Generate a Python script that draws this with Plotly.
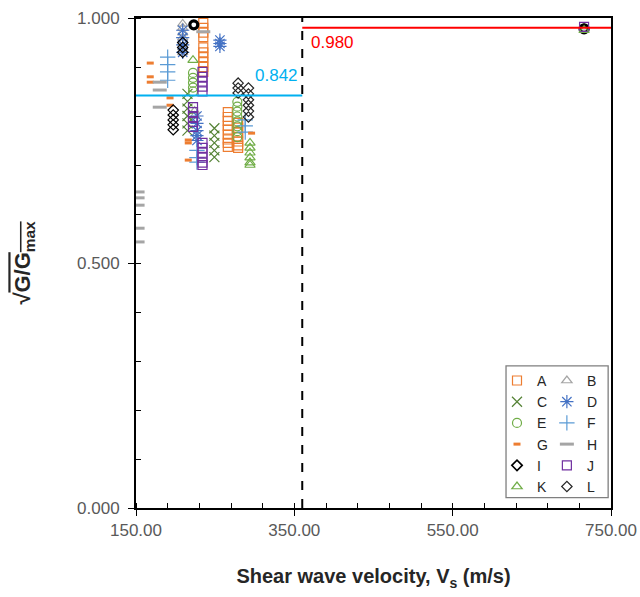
import plotly.graph_objects as go

# ---------------- data ----------------
A_x = [235, 235, 235, 235, 235, 235, 235, 235, 235, 235,
       266, 266, 266, 266, 266, 266, 266, 266, 266,
       279, 279, 279, 279, 279, 279, 279]
A_y = [0.990, 0.980, 0.970, 0.961, 0.940, 0.930, 0.920, 0.910, 0.900, 0.890,
       0.808, 0.798, 0.790, 0.780, 0.772, 0.762, 0.752, 0.745, 0.737,
       0.786, 0.776, 0.766, 0.757, 0.748, 0.740, 0.735]

B_x = [209, 209, 209, 209, 209, 209, 209, 224, 224, 716]
B_y = [0.988, 0.980, 0.970, 0.960, 0.950, 0.940, 0.930, 0.810, 0.800, 0.980]

C_x = [215, 215, 215, 215, 215, 215, 249, 249, 249, 249, 249]
C_y = [0.845, 0.830, 0.815, 0.800, 0.785, 0.770, 0.775, 0.760, 0.745, 0.730, 0.716]

D_x = [209, 209, 209, 209, 256, 256, 256, 227, 227, 227, 227, 227]
D_y = [0.975, 0.960, 0.945, 0.930, 0.955, 0.948, 0.942, 0.800, 0.785, 0.770, 0.760, 0.750]

E_x = [222, 222, 222, 222, 222, 278, 278, 278, 278, 278, 278, 278, 278, 716]
E_y = [0.888, 0.878, 0.868, 0.858, 0.850, 0.829, 0.819, 0.809, 0.799, 0.789, 0.779, 0.769, 0.757, 0.978]

F_x = [190, 190, 190, 190, 227, 227, 227, 288, 288, 288]
F_y = [0.920, 0.905, 0.890, 0.873, 0.730, 0.715, 0.706, 0.792, 0.780, 0.767]

G_x = [168, 168, 168, 193, 193, 216, 216, 216, 296]
G_y = [0.908, 0.880, 0.869, 0.837, 0.822, 0.751, 0.745, 0.710, 0.765]

H_x = [180, 180, 180, 152, 152, 152, 152, 152, 235]
H_y = [0.869, 0.853, 0.818, 0.645, 0.633, 0.618, 0.571, 0.543, 0.972]

I_x = [197, 197, 197, 197, 197, 209, 209, 209, 223, 716]
I_y = [0.812, 0.802, 0.792, 0.782, 0.772, 0.950, 0.940, 0.930, 0.986, 0.978]

J_x = [234, 234, 234, 234, 234, 222, 222, 222, 222, 222, 234, 234, 234, 234, 234, 234, 716]
J_y = [0.890, 0.880, 0.870, 0.860, 0.850, 0.818, 0.808, 0.798, 0.788, 0.778,
       0.745, 0.735, 0.725, 0.715, 0.705, 0.700, 0.982]

K_x = [222, 294, 294, 294, 294, 294, 294, 716]
K_y = [0.914, 0.745, 0.735, 0.725, 0.715, 0.705, 0.700, 0.975]

L_x = [279, 279, 279, 292, 292, 292, 292, 292, 292]
L_y = [0.867, 0.857, 0.847, 0.857, 0.845, 0.833, 0.822, 0.810, 0.798]

vs_threshold = 360          # dashed vertical line
low_mean = 0.842            # mean ratio below threshold
high_mean = 0.980           # mean ratio above threshold
x_range = [150, 750]
y_range = [0, 1]
x_ticks = [150, 350, 550, 750]
y_ticks = [0.0, 0.5, 1.0]

# ---------------- styles ----------------
FONT = "Liberation Sans, Arial, sans-serif"
series = [
    ("A", A_x, A_y, "square-open", "#ED7D31", 9, 1.2, "legend"),
    ("B", B_x, B_y, "triangle-up-open", "#A5A5A5", 9, 1.2, "legend2"),
    ("C", C_x, C_y, "x-thin-open", "#548235", 10, 1.2, "legend"),
    ("D", D_x, D_y, "asterisk-open", "#4472C4", 11, 1.2, "legend2"),
    ("E", E_x, E_y, "circle-open", "#70AD47", 9, 1.2, "legend"),
    ("F", F_x, F_y, "cross-thin-open", "#5B9BD5", 11, 1.2, "legend2"),
    ("G", G_x, G_y, "line-ew-open", "#ED7D31", 5, 3, "legend"),
    ("H", H_x, H_y, "line-ew-open", "#A5A5A5", 10, 3, "legend2"),
    ("I", I_x, I_y, "diamond-open", "#000000", 8, 1.2, "legend"),
    ("J", J_x, J_y, "square-open", "#7030A0", 9, 1.2, "legend2"),
    ("K", K_x, K_y, "triangle-up-open", "#70AD47", 9, 1.2, "legend"),
    ("L", L_x, L_y, "diamond-open", "#262626", 8, 1.2, "legend2"),
]

fig = go.Figure()
for name, xs, ys, sym, col, size, lw, leg in series:
    symbols = sym
    widths = lw
    if name == "I":
        # bold ring markers for the top points
        symbols = [sym if y < 0.97 else "circle-open" for y in ys]
        widths = [lw if y < 0.97 else 3.2 for y in ys]
    fig.add_trace(go.Scatter(
        x=xs, y=ys, mode="markers", name=name, legend=leg,
        marker=dict(symbol=symbols, color=col, size=size,
                    line=dict(color=col, width=widths)),
    ))

# reference lines
fig.add_shape(type="line", x0=vs_threshold, x1=vs_threshold, y0=y_range[0], y1=y_range[1],
              xref="x", yref="y", line=dict(color="black", width=2, dash="dash"))
fig.add_shape(type="line", x0=x_range[0], x1=vs_threshold, y0=low_mean, y1=low_mean,
              xref="x", yref="y", line=dict(color="#00B0F0", width=2))
fig.add_shape(type="line", x0=vs_threshold, x1=x_range[1], y0=high_mean, y1=high_mean,
              xref="x", yref="y", line=dict(color="#FF0000", width=2))

fig.add_annotation(x=vs_threshold - 3, y=low_mean + 0.04, xref="x", yref="y",
                   text=f"{low_mean:.3f}", showarrow=False, xanchor="right", yanchor="middle",
                   font=dict(family=FONT, size=17, color="#00B0F0"))
fig.add_annotation(x=vs_threshold + 8, y=high_mean - 0.031, xref="x", yref="y",
                   text=f"{high_mean:.3f}", showarrow=False, xanchor="left", yanchor="middle",
                   font=dict(family=FONT, size=17, color="#FF0000"))

# legend frame
fig.add_shape(type="rect", xref="paper", yref="paper",
              x0=0.779, x1=0.994, y0=0.021, y1=0.29,
              line=dict(color="#7F7F7F", width=1.3), fillcolor="white", layer="above")

leg_common = dict(font=dict(family=FONT, size=14, color="#262626"),
                  bgcolor="rgba(0,0,0,0)", borderwidth=0, tracegroupgap=0,
                  itemwidth=30, xanchor="left", yanchor="top")

fig.update_layout(
    width=640, height=597,
    margin=dict(l=136, r=29, t=18, b=89),
    paper_bgcolor="white", plot_bgcolor="white",
    font=dict(family=FONT, size=15, color="#595959"),
    legend=dict(x=0.76, y=0.292, **leg_common),
    legend2=dict(x=0.865, y=0.292, **leg_common),
    xaxis=dict(
        range=x_range, tickvals=x_ticks, ticktext=[f"{v:.2f}" for v in x_ticks],
        showgrid=False, zeroline=False, showline=True, linecolor="black", linewidth=2,
        mirror=True, ticks="outside", ticklen=6, tickcolor="black", tickwidth=1,
        tickfont=dict(family=FONT, size=17, color="#595959"),
        minor=dict(dtick=40, tick0=150, ticks="inside", ticklen=5, tickcolor="black", tickwidth=1),
        title=dict(text="<b>Shear wave velocity, V<sub>s</sub> (m/s)</b>", standoff=30,
                   font=dict(family=FONT, size=20, color="#262626")),
        automargin=False,
    ),
    yaxis=dict(
        range=y_range, tickvals=y_ticks, ticktext=[f"{v:.3f}" for v in y_ticks],
        showgrid=False, zeroline=False, showline=True, linecolor="black", linewidth=2,
        mirror=True, ticks="outside", ticklen=6, tickcolor="black", tickwidth=1,
        ticklabelstandoff=5,
        tickfont=dict(family=FONT, size=17, color="#595959"),
        minor=dict(dtick=0.1, tick0=0, ticks="inside", ticklen=5, tickcolor="black", tickwidth=1),
        title=dict(text="<b>√<span style='text-decoration:overline'>G/G<sub>max</sub></span></b>",
                   standoff=40, font=dict(family=FONT, size=22, color="#262626")),
        automargin=False,
    ),
)

fig.write_html("out.html")
